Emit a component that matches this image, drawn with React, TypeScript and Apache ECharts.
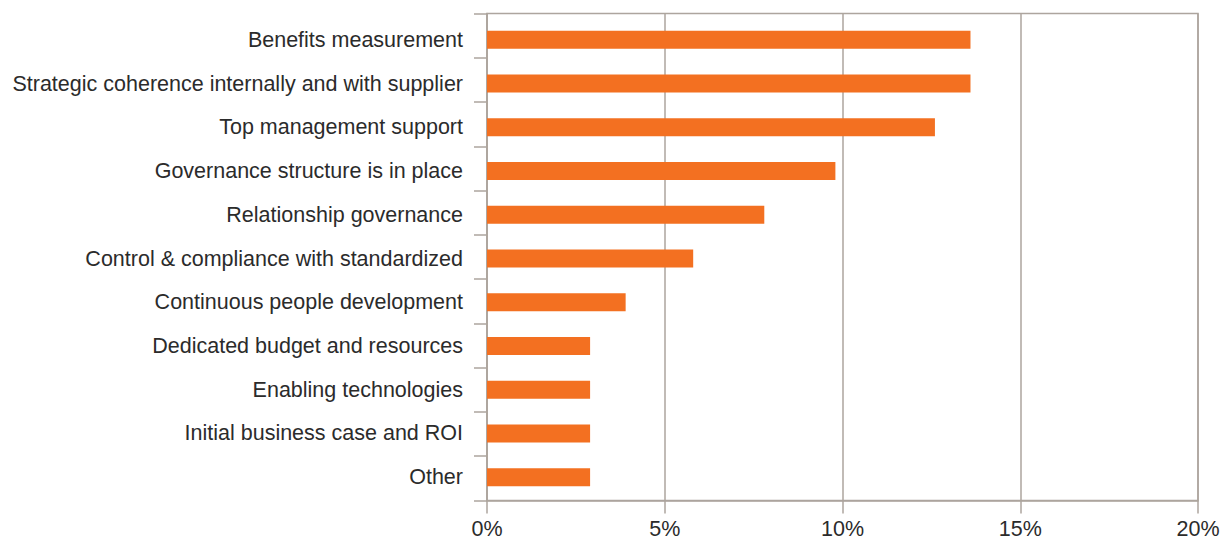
import React, { useEffect, useRef } from "react";
import * as echarts from "echarts";

const categories = [
  "Benefits measurement",
  "Strategic coherence internally and with supplier",
  "Top management support",
  "Governance structure is in place",
  "Relationship governance",
  "Control & compliance with standardized",
  "Continuous people development",
  "Dedicated budget and resources",
  "Enabling technologies",
  "Initial business case and ROI",
  "Other",
];
const values = [13.6, 13.6, 12.6, 9.8, 7.8, 5.8, 3.9, 2.9, 2.9, 2.9, 2.9];
const xTicks = { min: 0, max: 20, interval: 5 };

const GRAY = "#ADA59E";
const TEXT = "#2b2b2b";
const FONT = "'Liberation Sans', Arial, Helvetica, sans-serif";
const FS = 21.5;

export default function App() {
  const ref = useRef<HTMLDivElement>(null);
  useEffect(() => {
    document.body.style.margin = "0";
    const chart = echarts.init(ref.current!, null, { renderer: "svg" });
    chart.setOption({
      animation: false,
      backgroundColor: "#ffffff",
      grid: [
        {
          left: 487,
          right: 29,
          top: 13.5,
          bottom: 40.5,
          show: true,
          borderColor: GRAY,
          borderWidth: 1.5,
          containLabel: false,
        },
        {
          left: 487,
          right: 29,
          top: 18,
          bottom: 42,
          show: false,
          containLabel: false,
        },
      ],
      xAxis: [
        {
          type: "value",
          gridIndex: 0,
          min: xTicks.min,
          max: xTicks.max,
          interval: xTicks.interval,
          axisLine: { show: true, lineStyle: { color: GRAY, width: 1.5 } },
          axisTick: { show: true, length: 13, lineStyle: { color: GRAY, width: 1.5 } },
          splitLine: { show: true, lineStyle: { color: GRAY, width: 1.5 } },
          axisLabel: {
            formatter: "{value}%",
            color: TEXT,
            fontSize: FS,
            fontFamily: FONT,
            margin: 17,
          },
        },
        {
          type: "value",
          gridIndex: 1,
          min: xTicks.min,
          max: xTicks.max,
          interval: xTicks.interval,
          show: false,
        },
      ],
      yAxis: [
        {
          type: "category",
          gridIndex: 0,
          data: categories,
          inverse: true,
          axisLine: { show: true, lineStyle: { color: GRAY, width: 1.5 } },
          axisTick: { show: true, length: 13, interval: 0, lineStyle: { color: GRAY, width: 1.5 } },
          axisLabel: { show: false },
        },
        {
          type: "category",
          gridIndex: 1,
          data: categories,
          inverse: true,
          axisLine: { show: false },
          axisTick: { show: false },
          axisLabel: {
            color: TEXT,
            fontSize: FS,
            fontFamily: FONT,
            margin: 24,
            interval: 0,
          },
        },
      ],
      series: [
        {
          type: "bar",
          xAxisIndex: 1,
          yAxisIndex: 1,
          data: values,
          barWidth: 18,
          itemStyle: { color: "#F37021" },
        },
      ],
    });
    return () => chart.dispose();
  }, []);
  return <div ref={ref} style={{ width: 1227, height: 541 }} />;
}
